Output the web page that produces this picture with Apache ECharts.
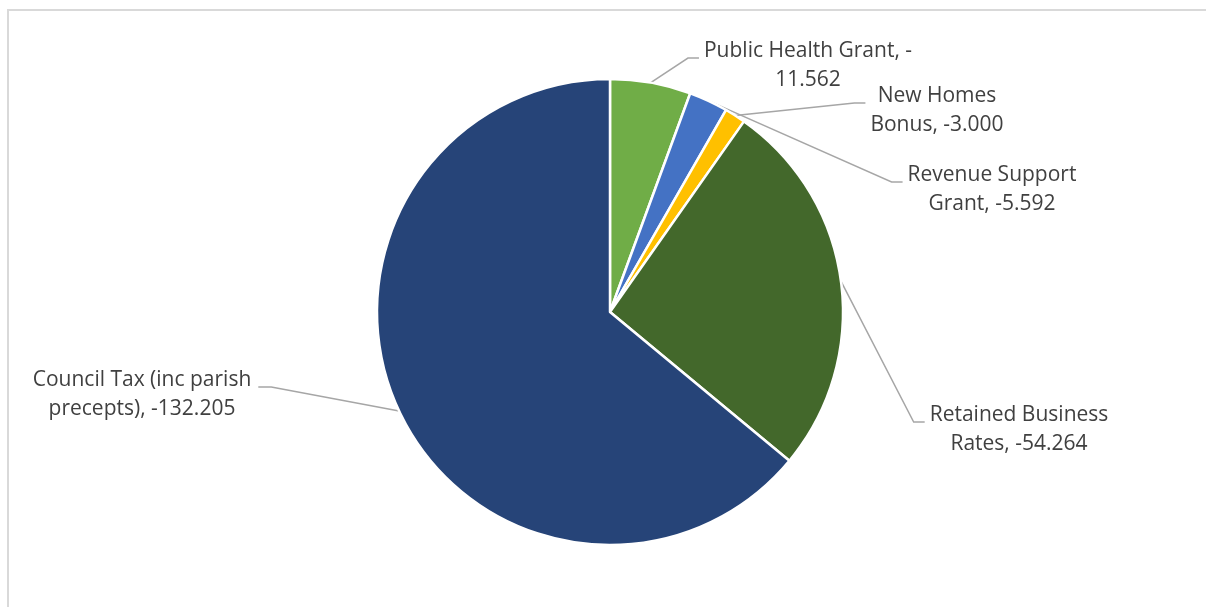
<!DOCTYPE html>
<html><head><meta charset="utf-8">
<script src="https://cdn.jsdelivr.net/npm/echarts@6/dist/echarts.min.js"></script>
<style>html,body{margin:0;padding:0;background:#fff}#c{width:1206px;height:607px}</style>
</head><body><div id="c"></div>
<script>
// ---- data ----
const categories = ['Public Health Grant', 'Revenue Support Grant', 'New Homes Bonus', 'Retained Business Rates', 'Council Tax (inc parish precepts)'];
const values = [-11.562, -5.592, -3.000, -54.264, -132.205];
const colors = ['#70AD47', '#4472C4', '#FFC000', '#43682B', '#264478'];

// ---- label layout (styling only) ----
const breakAt = [22, 15, 9, 17, 23];
const labelCenters = [[808, 66], [992, 190], [937, 111], [1019, 430], [142, 395]];

function wrap(s, n) {
  return s.slice(0, n).replace(/\s+$/, '') + '\n' + s.slice(n).replace(/^\s+/, '');
}

const chart = echarts.init(document.getElementById('c'), null, {renderer: 'canvas'});
chart.setOption({
  animation: false,
  backgroundColor: '#fff',
  graphic: [{
    type: 'rect', silent: true,
    shape: {x: 8, y: 10, width: 1210, height: 620},
    style: {fill: 'none', stroke: '#d9d9d9', lineWidth: 2}
  }],
  series: [{
    type: 'pie',
    center: [610, 312],
    radius: 233,
    startAngle: 90,
    clockwise: true,
    avoidLabelOverlap: false,
    silent: true,
    data: categories.map((name, i) => ({
      name: name,
      value: Math.abs(values[i]),
      itemStyle: {color: colors[i]}
    })),
    itemStyle: {borderColor: '#fff', borderWidth: 2.5},
    label: {
      show: true,
      position: 'outside',
      fontFamily: 'Open Sans',
      fontSize: 21,
      lineHeight: 29,
      color: '#404040',
      formatter: p => wrap(p.name + ', ' + values[p.dataIndex].toFixed(3), breakAt[p.dataIndex])
    },
    labelLine: {
      show: true,
      length: 20,
      length2: 10,
      smooth: false,
      lineStyle: {color: '#a6a6a6', width: 1.5}
    },
    labelLayout: function (p) {
      const i = p.dataIndex;
      const c = labelCenters[i];
      const w = p.labelRect.width;
      const right = c[0] > 610;
      const ex = right ? c[0] - w / 2 - 5 : c[0] + w / 2 + 7;
      const ey = c[1] - 8;
      const bx = right ? ex - 11 : ex + 13;
      const res = {x: c[0], y: c[1], align: 'center', verticalAlign: 'middle'};
      if (p.labelLinePoints) {
        res.labelLinePoints = [p.labelLinePoints[0], [bx, ey], [ex, ey]];
      }
      return res;
    }
  }]
});
</script>
</body></html>
